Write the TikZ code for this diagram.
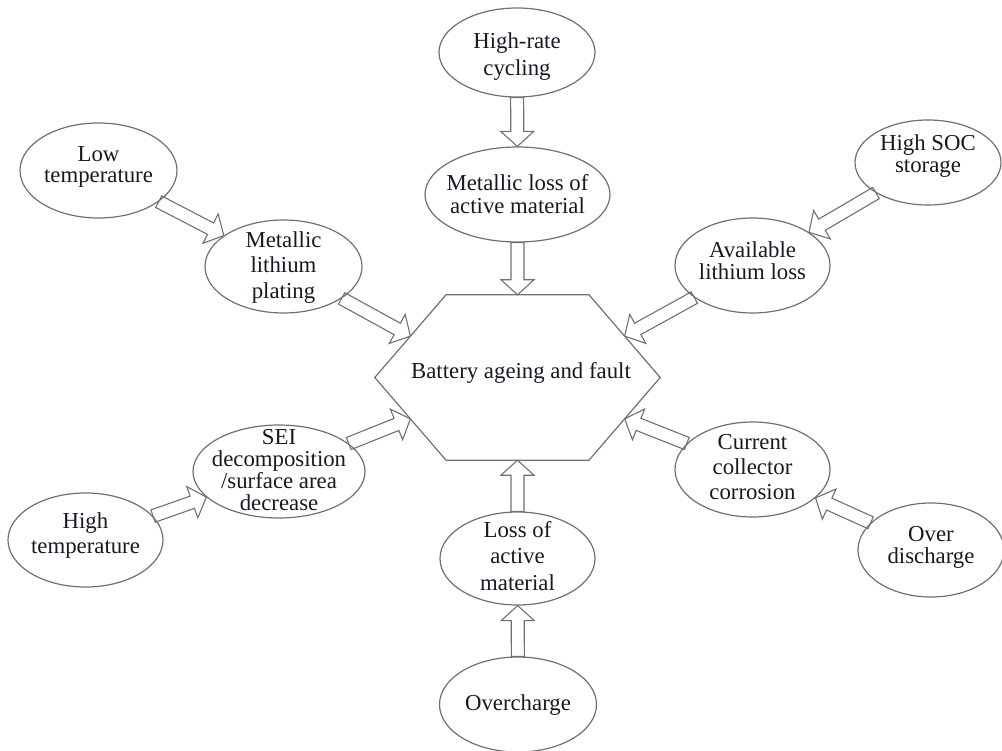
\documentclass[tikz,border=0pt]{standalone}
\usepackage{fontspec}
\setmainfont{Liberation Serif}
\usetikzlibrary{shapes.geometric,calc}

\definecolor{edge}{RGB}{112,112,112}
\definecolor{ink}{RGB}{24,24,36}

\tikzset{
  oval/.style={ellipse, draw=edge, line width=1.2pt, inner sep=0pt},
  ovaltext/.style={align=center, text=ink, inner sep=0pt},
  blockarrow/.style={draw=edge, line width=1.1pt, line join=miter},
  hexline/.style={draw=edge, line width=1.2pt},
}

% hollow block arrow dimensions
\newcommand\shafthalf{6.5pt}
\newcommand\headhalf{16.5pt}
\newcommand\headlen{15pt}

% ellipse with its caption: name, x, y, width, height, caption drop, line pitch, caption
\newcommand\ovalnode[8]{%
  \node[oval, minimum width=#4pt, minimum height=#5pt] (#1) at (#2,#3) {};
  \node[ovaltext, font=\fontsize{22.8pt}{#7pt}\selectfont] (#1-text)
    at ($(#1.center)+(0,#6)$) {#8};
}

% outlined block arrow from the border of #1 to #2
\newcommand\hollowarrow[2]{%
  \path (#1) -- (#2) coordinate[pos=0] (ha-s) coordinate[pos=1] (ha-e);
  \coordinate (ha-b) at ($(ha-e)!\headlen!(ha-s)$);
  \draw[blockarrow]
    ($(ha-s)!\shafthalf!90:(ha-e)$) --
    ($(ha-b)!\shafthalf!90:(ha-e)$) --
    ($(ha-b)!\headhalf!90:(ha-e)$) --
    (ha-e) --
    ($(ha-b)!\headhalf!-90:(ha-e)$) --
    ($(ha-b)!\shafthalf!-90:(ha-e)$) --
    ($(ha-s)!\shafthalf!-90:(ha-e)$) -- cycle;
}

\begin{document}
\begin{tikzpicture}[x=1pt, y=-1pt]
  \useasboundingbox (0,0) rectangle (1002,751);

  % central hexagon
  \node[minimum width=285pt, minimum height=165pt, inner sep=0pt] (hex) at (517.5,377.5) {};
  \coordinate (hexUL) at ([xshift=-71.5pt]hex.north);
  \coordinate (hexUR) at ([xshift=71.5pt]hex.north);
  \coordinate (hexLL) at ([xshift=-71.5pt]hex.south);
  \coordinate (hexLR) at ([xshift=71.5pt]hex.south);
  \draw[hexline] (hex.west) -- (hexUL) -- (hexUR) -- (hex.east) -- (hexLR) -- (hexLL) -- cycle;
  \coordinate (hexNW) at ($(hex.west)!0.5!(hexUL)$);
  \coordinate (hexNE) at ($(hex.east)!0.5!(hexUR)$);
  \coordinate (hexSW) at ($(hex.west)!0.5!(hexLL)$);
  \coordinate (hexSE) at ($(hex.east)!0.5!(hexLR)$);
  \node[ovaltext, font=\fontsize{22.8pt}{26pt}\selectfont] (hex-text) at (521,372.8)
    {Battery ageing and fault};

  % causes and mechanisms
  \ovalnode{cyc}{517}{52.5}{156}{89}{4}{27}{High-rate\\cycling}
  \ovalnode{mloss}{517.5}{194.5}{185}{95}{0}{23}{Metallic loss of\\active material}
  \ovalnode{low}{98.5}{170.5}{157}{95}{-4}{21}{Low\\temperature}
  \ovalnode{plat}{283.5}{266.5}{157}{93}{1}{25.7}{Metallic\\lithium\\plating}
  \ovalnode{soc}{928}{162.5}{146}{85}{-6}{22}{High SOC\\storage}
  \ovalnode{avail}{752.5}{265.5}{155}{95}{-5}{21.5}{Available\\lithium loss}
  \ovalnode{sei}{279}{471.5}{172}{93}{-1.5}{22}{SEI\\decomposition\\/surface area\\decrease}
  \ovalnode{ht}{85.5}{540}{155}{94}{-4.5}{25}{High\\temperature}
  \ovalnode{loss}{517.5}{558.5}{155}{93}{-2.5}{26.5}{Loss of\\active\\material}
  \ovalnode{ovc}{518}{704.5}{157}{95}{1}{26}{Overcharge}
  \ovalnode{cur}{752.5}{469.5}{155}{95}{-2}{25}{Current\\collector\\corrosion}
  \ovalnode{od}{931}{550}{146}{94}{-2.5}{21.5}{Over\\discharge}

  % connections
  \hollowarrow{cyc}{mloss}
  \hollowarrow{mloss}{hex.north}
  \hollowarrow{low}{plat}
  \hollowarrow{plat}{hexNW}
  \hollowarrow{soc}{avail}
  \hollowarrow{avail}{hexNE}
  \hollowarrow{ht}{sei}
  \hollowarrow{sei}{hexSW}
  \hollowarrow{ovc}{loss}
  \hollowarrow{loss}{hex.south}
  \hollowarrow{od}{cur}
  \hollowarrow{cur}{hexSE}
\end{tikzpicture}
\end{document}
